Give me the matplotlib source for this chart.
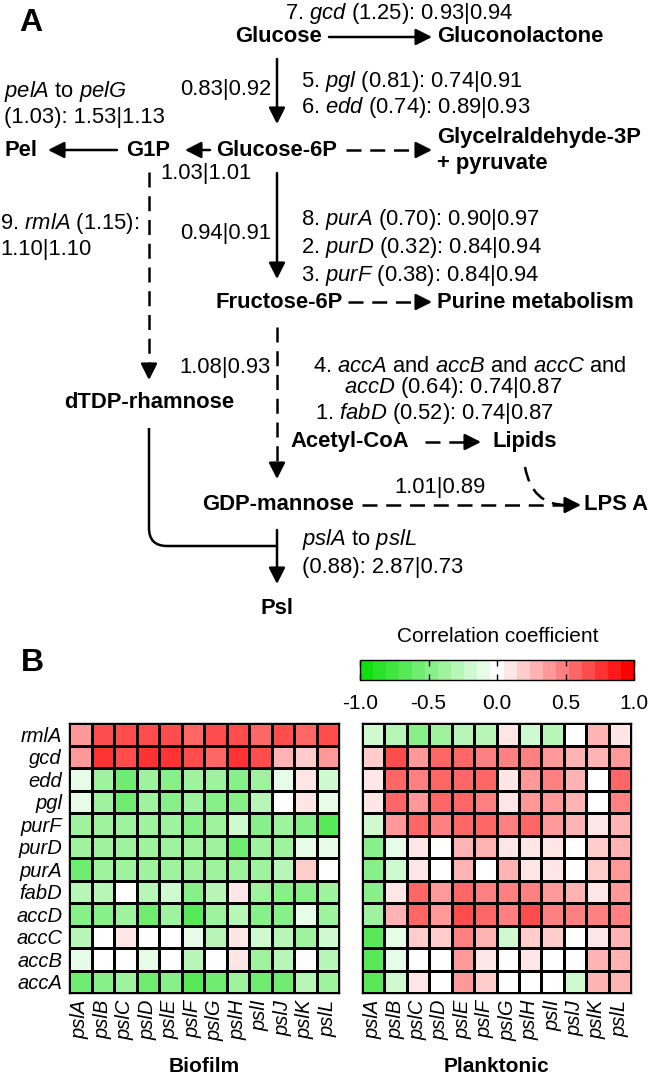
import numpy as np
import matplotlib
matplotlib.use('Agg')
import matplotlib.pyplot as plt
from matplotlib.colors import LinearSegmentedColormap, Normalize
from matplotlib.path import Path
from matplotlib.patches import PathPatch

plt.rcParams['font.family'] = ['Liberation Sans', 'DejaVu Sans']
plt.rcParams['mathtext.fontset'] = 'custom'
plt.rcParams['mathtext.rm'] = 'Liberation Sans'
plt.rcParams['mathtext.it'] = 'Liberation Sans:italic'
plt.rcParams['mathtext.bf'] = 'Liberation Sans:bold'
plt.rcParams['axes.unicode_minus'] = False

# heatmap rows / columns
genes = ['rmlA', 'gcd', 'edd', 'pgl', 'purF', 'purD', 'purA', 'fabD',
         'accD', 'accC', 'accB', 'accA']
psl = ['pslA', 'pslB', 'pslC', 'pslD', 'pslE', 'pslF', 'pslG', 'pslH',
       'pslI', 'pslJ', 'pslK', 'pslL']

# correlation coefficients (rows = genes, cols = psl)
biofilm = [
    [0.4, 0.7, 0.65, 0.65, 0.65, 0.6, 0.7, 0.65, 0.6, 0.65, 0.55, 0.65],
    [0.4, 0.75, 0.7, 0.75, 0.75, 0.65, 0.55, 0.75, 0.65, 0.3, 0.2, 0.4],
    [-0.1, -0.4, -0.6, -0.4, -0.45, -0.4, -0.4, -0.5, -0.4, -0.1, 0.1, -0.2],
    [-0.1, -0.4, -0.6, -0.4, -0.5, -0.4, -0.45, -0.5, -0.3, 0.0, 0.1, -0.1],
    [-0.35, -0.35, -0.4, -0.4, -0.35, -0.5, -0.4, -0.2, -0.5, -0.4, -0.45, -0.7],
    [-0.4, -0.4, -0.35, -0.4, -0.4, -0.4, -0.35, -0.55, -0.4, -0.4, -0.1, -0.1],
    [-0.6, -0.4, -0.4, -0.4, -0.4, -0.4, -0.35, -0.4, -0.4, -0.3, 0.2, 0.0],
    [-0.3, -0.25, 0.0, -0.3, -0.15, -0.45, -0.3, 0.1, -0.4, -0.45, -0.45, -0.35],
    [-0.45, -0.45, -0.4, -0.6, -0.4, -0.65, -0.4, -0.3, -0.5, -0.45, -0.1, -0.35],
    [-0.3, 0.0, 0.1, 0.0, 0.0, -0.1, -0.3, 0.1, -0.15, -0.25, -0.35, -0.15],
    [-0.1, 0.0, 0.0, -0.1, 0.0, -0.3, 0.0, 0.1, -0.4, -0.3, 0.0, -0.25],
    [-0.55, -0.5, -0.35, -0.6, -0.45, -0.65, -0.55, -0.35, -0.6, -0.6, -0.25, -0.35],
]
planktonic = [
    [-0.15, -0.25, -0.45, -0.35, -0.25, -0.25, 0.1, -0.15, -0.25, 0.0, 0.25, 0.1],
    [0.2, 0.65, 0.35, 0.55, 0.55, 0.45, 0.45, 0.45, 0.35, 0.25, 0.25, 0.35],
    [0.1, 0.55, 0.5, 0.55, 0.55, 0.55, 0.1, 0.35, 0.45, 0.3, 0.0, 0.55],
    [0.1, 0.55, 0.4, 0.55, 0.55, 0.45, 0.1, 0.35, 0.4, 0.3, 0.0, 0.5],
    [-0.2, 0.35, 0.55, 0.45, 0.55, 0.55, 0.45, 0.55, 0.35, 0.25, 0.1, 0.3],
    [-0.45, -0.1, 0.1, 0.0, 0.3, 0.25, 0.1, 0.1, 0.1, 0.0, 0.15, 0.3],
    [-0.45, -0.15, 0.1, 0.0, 0.3, 0.0, 0.3, 0.1, 0.1, 0.0, 0.15, 0.35],
    [-0.45, 0.1, 0.55, 0.35, 0.55, 0.45, 0.45, 0.45, 0.35, 0.25, 0.1, 0.35],
    [-0.35, 0.25, 0.55, 0.35, 0.65, 0.55, 0.5, 0.65, 0.45, 0.45, 0.5, 0.45],
    [-0.65, -0.1, 0.2, 0.2, 0.45, 0.3, -0.15, 0.2, 0.2, 0.0, 0.1, 0.3],
    [-0.65, -0.1, 0.0, 0.0, 0.35, 0.1, 0.0, 0.1, 0.0, 0.0, 0.25, 0.25],
    [-0.65, -0.15, 0.1, 0.0, 0.35, 0.15, 0.0, 0.0, 0.0, -0.15, 0.25, 0.25],
]
cbar_ticks = [-1.0, -0.5, 0.0, 0.5, 1.0]

W, H = 651, 1075
fig = plt.figure(figsize=(W / 100, H / 100), dpi=100)

# full-figure axes in pixel units for the pathway diagram
ax0 = fig.add_axes([0, 0, 1, 1])
ax0.set_xlim(0, W)
ax0.set_ylim(H, 0)
ax0.axis('off')

FS = 15.8
LW = 1.8
DASH = (6, 3.5)


def txt(x, y, s, ha='left', bold=False, size=FS):
    ax0.text(x, y, s, ha=ha, va='center', size=size,
             fontweight='bold' if bold else 'normal')


def arrow(x0, y0, x1, y1, dashed=False):
    props = dict(arrowstyle='-|>,head_length=0.75,head_width=0.38',
                 mutation_scale=13, color='k', lw=LW, shrinkA=0, shrinkB=0)
    if dashed:
        L = np.hypot(x1 - x0, y1 - y0)
        ux, uy = (x1 - x0) / L, (y1 - y0) / L
        hx, hy = x1 - 16 * ux, y1 - 16 * uy
        ax0.plot([x0, hx], [y0, hy], color='k', lw=LW, dashes=DASH,
                 dash_capstyle='butt')
        ax0.annotate('', xy=(x1, y1), xytext=(hx, hy), arrowprops=props)
    else:
        ax0.annotate('', xy=(x1, y1), xytext=(x0, y0), arrowprops=props)


# panel letters
txt(31, 23, 'A', ha='center', bold=True, size=23)
txt(32, 663, 'B', ha='center', bold=True, size=23)

# glucose row
txt(399, 13, '7. $gcd$ (1.25): 0.93|0.94', ha='center')
txt(278, 37, 'Glucose', ha='center', bold=True)
arrow(329, 37, 432, 37)
txt(437, 37, 'Gluconolactone', bold=True)

arrow(277, 59, 277, 124)
txt(271, 90, '0.83|0.92', ha='right')
txt(301, 82, '5. $pgl$ (0.81): 0.74|0.91')
txt(301, 108, '6. $edd$ (0.74): 0.89|0.93')
txt(4, 92, '$pelA$ to $pelG$')
txt(4, 118, '(1.03): 1.53|1.13')

# glucose-6P row
txt(5, 150, 'Pel', bold=True)
arrow(117, 150, 48, 150)
txt(148, 150, 'G1P', ha='center', bold=True)
arrow(210, 150, 185, 150)
txt(277, 150, 'Glucose-6P', ha='center', bold=True)
arrow(346, 150, 432, 150, dashed=True)
txt(437, 137, 'Glycelraldehyde-3P', bold=True)
txt(437, 163, '+ pyruvate', bold=True)
txt(160, 174, '1.03|1.01')

# rhamnose branch
arrow(149, 172, 149, 380, dashed=True)
txt(0, 223, '9. $rmlA$ (1.15):')
txt(0, 250, '1.10|1.10')
txt(149, 403, 'dTDP-rhamnose', ha='center', bold=True)

# fructose
arrow(277, 173, 277, 279)
txt(271, 233, '0.94|0.91', ha='right')
txt(301, 220, '8. $purA$ (0.70): 0.90|0.97')
txt(301, 247, '2. $purD$ (0.32): 0.84|0.94')
txt(301, 275, '3. $purF$ (0.38): 0.84|0.94')
txt(343, 302, 'Fructose-6P', ha='right', bold=True)
arrow(348, 302, 432, 302, dashed=True)
txt(437, 302, 'Purine metabolism', bold=True)

arrow(277, 327, 277, 479, dashed=True)
txt(271, 368, '1.08|0.93', ha='right')
txt(313, 367, '4. $accA$ and $accB$ and $accC$ and')
txt(562, 388, '$accD$ (0.64): 0.74|0.87', ha='right')
txt(315, 413, '1. $fabD$ (0.52): 0.74|0.87')
txt(290, 442, 'Acetyl-CoA', bold=True)
arrow(425, 442, 481, 442, dashed=True)
txt(492, 442, 'Lipids', bold=True)

# GDP-mannose row
txt(354, 505, 'GDP-mannose', ha='right', bold=True)
txt(440, 488, '1.01|0.89', ha='center')
arrow(362, 505, 581, 505, dashed=True)
txt(584, 505, 'LPS A', bold=True)
lip = Path([(525, 467), (532, 505), (566, 505)],
           [Path.MOVETO, Path.CURVE3, Path.CURVE3])
pp = PathPatch(lip, fill=False, lw=LW, color='k')
pp.set_linestyle((0, DASH))
ax0.add_patch(pp)

# to Psl
rh = Path([(149, 428), (149, 528), (149, 546), (167, 546), (277, 546)],
          [Path.MOVETO, Path.LINETO, Path.CURVE3, Path.CURVE3, Path.LINETO])
ax0.add_patch(PathPatch(rh, fill=False, lw=LW, color='k'))
arrow(277, 530, 277, 584)
txt(302, 540, '$pslA$ to $pslL$')
txt(302, 567, '(0.88): 2.87|0.73')
txt(277, 608, 'Psl', ha='center', bold=True)

# colour map: green - white - red, discrete
cmap = LinearSegmentedColormap.from_list(
    'gwr', [(0.0, '#10e010'), (0.5, '#ffffff'), (1.0, '#ff0000')], N=21)
norm = Normalize(vmin=-1, vmax=1)


def heat(ax, data, title, left_labels, xc):
    ax.pcolormesh(np.array(data), cmap=cmap, norm=norm,
                  edgecolors='k', linewidth=1.0)
    ax.set_xlim(0, 12)
    ax.set_ylim(12, 0)
    ax.set_xticks(np.arange(12) + 0.5)
    ax.set_xticklabels(psl, rotation=90, fontstyle='italic', size=14.5)
    ax.set_yticks(np.arange(12) + 0.5)
    if left_labels:
        ax.set_yticklabels(genes, fontstyle='italic', size=14.5)
    else:
        ax.set_yticklabels([])
    ax.tick_params(length=0, pad=5)
    for s in ax.spines.values():
        s.set_linewidth(1.0)
    txt(xc, 1066, title, ha='center', bold=True, size=15)


ax1 = fig.add_axes([69 / W, 1 - 993 / H, 270 / W, 270 / H])
heat(ax1, biofilm, 'Biofilm', True, 204)
ax2 = fig.add_axes([362 / W, 1 - 993 / H, 269 / W, 270 / H])
heat(ax2, planktonic, 'Planktonic', False, 496)

cax = fig.add_axes([360 / W, 1 - 680 / H, 274 / W, 20 / H])
sm = plt.cm.ScalarMappable(norm=norm, cmap=cmap)
cb = fig.colorbar(sm, cax=cax, orientation='horizontal', ticks=cbar_ticks)
cb.ax.xaxis.set_major_formatter('{x:.1f}')
cb.ax.tick_params(direction='in', length=4, width=1, top=True, bottom=True,
                  labelsize=15, pad=10)
cb.outline.set_linewidth(1.0)
txt(498, 637, 'Correlation coefficient', ha='center', size=15)

fig.savefig('out.png', dpi=100)
